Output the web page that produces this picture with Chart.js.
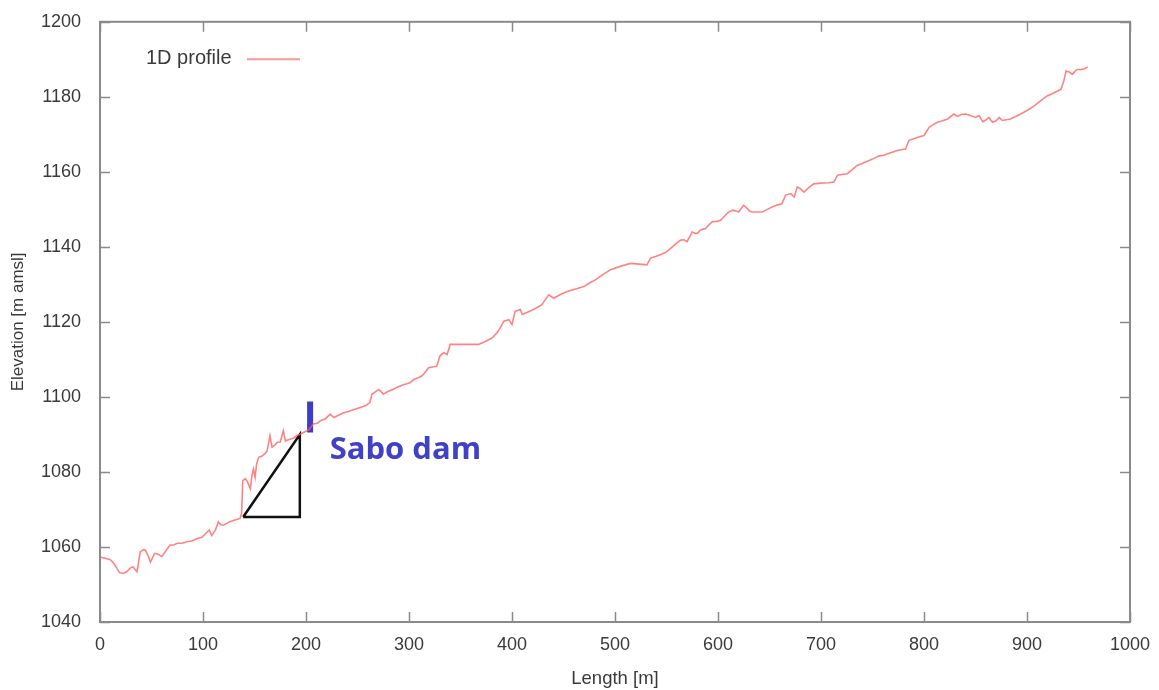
<!DOCTYPE html>
<html>
<head>
<meta charset="utf-8">
<script src="https://cdn.jsdelivr.net/npm/chart.js@4.4.1/dist/chart.umd.min.js"></script>
<style>
  html, body { margin: 0; padding: 0; background: #fff; }
  #wrap { width: 1159px; height: 690px; position: relative; }
</style>
</head>
<body>
<div id="wrap"><canvas id="profileChart"></canvas></div>
<script>
// Longitudinal bed profile: distance along channel [m] and bed elevation [m amsl]
const lengthM = [
  0, 5, 10, 13, 16, 19, 23, 26, 29, 32, 34, 36, 39, 42, 44, 47, 49, 53, 57, 60,
  64, 68, 72, 75, 80, 84, 89, 94, 99, 104, 106, 108.5, 112, 115, 117, 120, 123, 126, 131, 136,
  137.5, 138.6, 141, 143, 146, 147.5, 149, 150.6, 152, 154, 157, 160, 162, 163.6, 165, 167, 170, 172, 175, 178,
  180, 185, 188, 191, 194, 197.6, 203, 207, 211, 215, 219, 223.5, 227, 232, 236.5, 241, 246, 252.7, 258, 262,
  264, 267, 270.5, 273, 275, 280, 284, 288, 294, 301, 305, 309, 312, 314, 319, 323, 327, 330, 333.6, 337,
  340, 350, 360, 367.6, 374, 380.6, 385.5, 389, 392, 397, 400, 403, 408, 410, 415, 421, 429, 432, 435.7, 440.5,
  447, 453.5, 461, 469.7, 476, 481, 487, 495.6, 505, 515, 524, 531, 534.5, 540, 544, 549, 554, 559, 563.7, 567,
  570, 575, 577.5, 580, 583, 588, 591, 594.5, 599, 602.5, 607.4, 610, 614, 617, 620, 625, 628.5, 631, 633, 638,
  643, 648, 653, 658, 662, 665.7, 670.6, 674, 677, 680, 683.5, 688, 693, 700, 707, 712.6, 716, 720, 725.6, 730,
  735, 740, 745, 750, 756, 761, 767, 774, 778, 782, 785.5, 790, 795, 800, 805, 809, 813, 818, 823, 829,
  832.5, 836, 840.6, 845, 850, 853.6, 857, 860, 863, 866.6, 870, 873, 876, 880, 884, 890, 897, 902, 907, 913,
  920, 926, 933, 935.5, 938, 941, 944, 947, 949, 953, 956, 959
];
const elevation = [
  1057.3, 1057, 1056.6, 1055.8, 1054.5, 1053.1, 1053, 1053.4, 1054.3, 1054.7, 1054, 1053.4, 1058.7, 1059.3, 1059.2, 1057.5, 1056, 1058.3, 1058, 1057.4,
  1059, 1060.5, 1060.6, 1061, 1061, 1061.4, 1061.6, 1062.2, 1062.6, 1064, 1064.5, 1063.1, 1064.5, 1066.7, 1066, 1065.8, 1066.3, 1066.7, 1067.2, 1067.6,
  1069, 1077.7, 1078.2, 1077.5, 1075.5, 1079, 1080.8, 1078.6, 1082, 1083.9, 1084.2, 1084.8, 1085.5, 1087.5, 1089.7, 1086.6, 1087.2, 1087.9, 1088, 1091,
  1088.3, 1088.8, 1089, 1089.7, 1090, 1090.5, 1091.3, 1092.8, 1093, 1093.8, 1094.2, 1095.4, 1094.5, 1095.2, 1095.8, 1096.1, 1096.6, 1097.2, 1097.7, 1098.5,
  1100.7, 1101.3, 1102, 1101.4, 1100.7, 1101.5, 1102, 1102.5, 1103.2, 1103.8, 1104.7, 1105.1, 1105.5, 1106, 1107.8, 1108, 1108.2, 1110.9, 1111.8, 1111.3,
  1114, 1114, 1114, 1114, 1114.8, 1115.7, 1117.1, 1118.6, 1120.2, 1120.6, 1119.3, 1122.8, 1123.3, 1122, 1122.6, 1123.3, 1124.6, 1125.8, 1127.2, 1126.3,
  1127.3, 1128.1, 1128.7, 1129.4, 1130.5, 1131.2, 1132.4, 1133.9, 1134.8, 1135.6, 1135.4, 1135.2, 1137, 1137.5, 1137.9, 1138.5, 1139.6, 1140.8, 1141.8, 1141.9,
  1141.4, 1144, 1143.6, 1143.6, 1144.5, 1144.9, 1145.8, 1146.7, 1146.8, 1147.1, 1148.5, 1149.2, 1149.8, 1149.6, 1149.3, 1151.1, 1150.2, 1149.5, 1149.3, 1149.3,
  1149.3, 1150, 1150.7, 1151.2, 1151.5, 1153.8, 1154.2, 1153.3, 1156, 1155.5, 1154.6, 1155.8, 1156.8, 1157, 1157.1, 1157.3, 1159.1, 1159.3, 1159.5, 1160.5,
  1161.7, 1162.2, 1162.8, 1163.4, 1164.2, 1164.4, 1165, 1165.7, 1165.9, 1166.1, 1168.4, 1168.8, 1169.3, 1169.7, 1171.9, 1172.6, 1173.2, 1173.6, 1174.1, 1175.4,
  1174.8, 1175.3, 1175.4, 1175, 1174.5, 1175, 1173.4, 1173.8, 1174.5, 1173.2, 1173.6, 1174.5, 1173.7, 1173.9, 1174.1, 1174.9, 1175.9, 1176.7, 1177.6, 1178.9,
  1180.3, 1181, 1182, 1184, 1186.9, 1186.6, 1186, 1186.9, 1187.3, 1187.3, 1187.5, 1188
];

// Slope triangle upstream of the dam and the dam crest marker
const slopeX = [139, 194, 194, 139];
const slopeY = [1068, 1068, 1090, 1068];
const damX = [204, 204];
const damY = [1090.5, 1098.8];
const damLabel = "Sabo dam";
const damLabelAt = { x: 223, y: 1083.4 };

const xTicks = [0, 100, 200, 300, 400, 500, 600, 700, 800, 900, 1000];
const yTicks = [1040, 1060, 1080, 1100, 1120, 1140, 1160, 1180, 1200];

const FONT = "'Liberation Sans', Arial, sans-serif";
const TEXT = "#3a3a3a";
const FRAME = "#8a8a8a";
const PROFILE = "rgba(255, 90, 90, 0.75)";

const toPoints = (xs, ys) => xs.map((x, i) => ({ x: x, y: ys[i] }));

// frame, inward tick marks, inset legend and dam label
const decorations = {
  id: "decorations",
  afterDatasetsDraw(chart) {
    const { ctx, chartArea: a, scales } = chart;
    const sx = scales.x, sy = scales.y;
    ctx.save();
    ctx.strokeStyle = FRAME;
    ctx.lineWidth = 1.5;
    xTicks.forEach((v) => {
      const px = Math.round(sx.getPixelForValue(v)) + 0.5;
      ctx.beginPath();
      ctx.moveTo(px, a.bottom); ctx.lineTo(px, a.bottom - 10);
      ctx.moveTo(px, a.top); ctx.lineTo(px, a.top + 10);
      ctx.stroke();
    });
    yTicks.forEach((v) => {
      const py = Math.round(sy.getPixelForValue(v)) + 0.5;
      ctx.beginPath();
      ctx.moveTo(a.left, py); ctx.lineTo(a.left + 10, py);
      ctx.moveTo(a.right, py); ctx.lineTo(a.right - 10, py);
      ctx.stroke();
    });
    ctx.lineWidth = 2;
    ctx.strokeRect(a.left, a.top, a.right - a.left, a.bottom - a.top);

    // legend entry: label first, sample line after it
    ctx.fillStyle = TEXT;
    ctx.font = "20px " + FONT;
    ctx.textBaseline = "middle";
    ctx.textAlign = "left";
    const label = chart.data.datasets[0].label;
    ctx.fillText(label, a.left + 46, a.top + 37);
    ctx.strokeStyle = "rgba(250, 140, 140, 0.9)";
    ctx.lineWidth = 2;
    ctx.beginPath();
    ctx.moveTo(a.left + 147, a.top + 37.5);
    ctx.lineTo(a.left + 200, a.top + 37.5);
    ctx.stroke();

    ctx.fillStyle = "#4141c8";
    ctx.font = "bold 31px 'Open Sans', " + FONT;
    ctx.textBaseline = "alphabetic";
    ctx.fillText(damLabel, sx.getPixelForValue(damLabelAt.x), sy.getPixelForValue(damLabelAt.y));
    ctx.restore();
  }
};

new Chart(document.getElementById("profileChart"), {
  type: "line",
  data: {
    datasets: [
      {
        label: "1D profile",
        data: toPoints(lengthM, elevation),
        borderColor: PROFILE,
        borderWidth: 1.6,
        pointRadius: 0,
        tension: 0
      },
      {
        label: "slope",
        data: toPoints(slopeX, slopeY),
        borderColor: "#111",
        borderWidth: 2.5,
        pointRadius: 0,
        tension: 0
      },
      {
        label: "dam",
        data: toPoints(damX, damY),
        borderColor: "#3c3cc8",
        borderWidth: 6,
        borderCapStyle: "butt",
        pointRadius: 0
      }
    ]
  },
  options: {
    responsive: true,
    maintainAspectRatio: false,
    animation: false,
    layout: { padding: { top: 18, right: 29, bottom: 0, left: 0 } },
    plugins: {
      legend: { display: false },
      tooltip: { enabled: false }
    },
    scales: {
      x: {
        type: "linear",
        min: 0,
        max: 1000,
        afterFit: (s) => { s.height = 68; },
        afterBuildTicks: (s) => { s.ticks = xTicks.map((v) => ({ value: v })); },
        grid: { display: false },
        border: { display: false },
        ticks: { color: TEXT, font: { family: FONT, size: 18 }, padding: 4, callback: (v) => String(v) },
        title: {
          display: true,
          text: "Length [m]",
          color: TEXT,
          font: { family: FONT, size: 18.5 },
          padding: { bottom: 0 }
        }
      },
      y: {
        type: "linear",
        min: 1040,
        max: 1200,
        afterFit: (s) => { s.width = 100; },
        afterBuildTicks: (s) => { s.ticks = yTicks.map((v) => ({ value: v })); },
        grid: { display: false },
        border: { display: false },
        ticks: { color: TEXT, font: { family: FONT, size: 18 }, padding: 11, callback: (v) => String(v) },
        title: {
          display: true,
          text: "Elevation [m amsl]",
          color: TEXT,
          font: { family: FONT, size: 17 },
          padding: { top: 8 }
        }
      }
    }
  },
  plugins: [decorations]
});
</script>
</body>
</html>
